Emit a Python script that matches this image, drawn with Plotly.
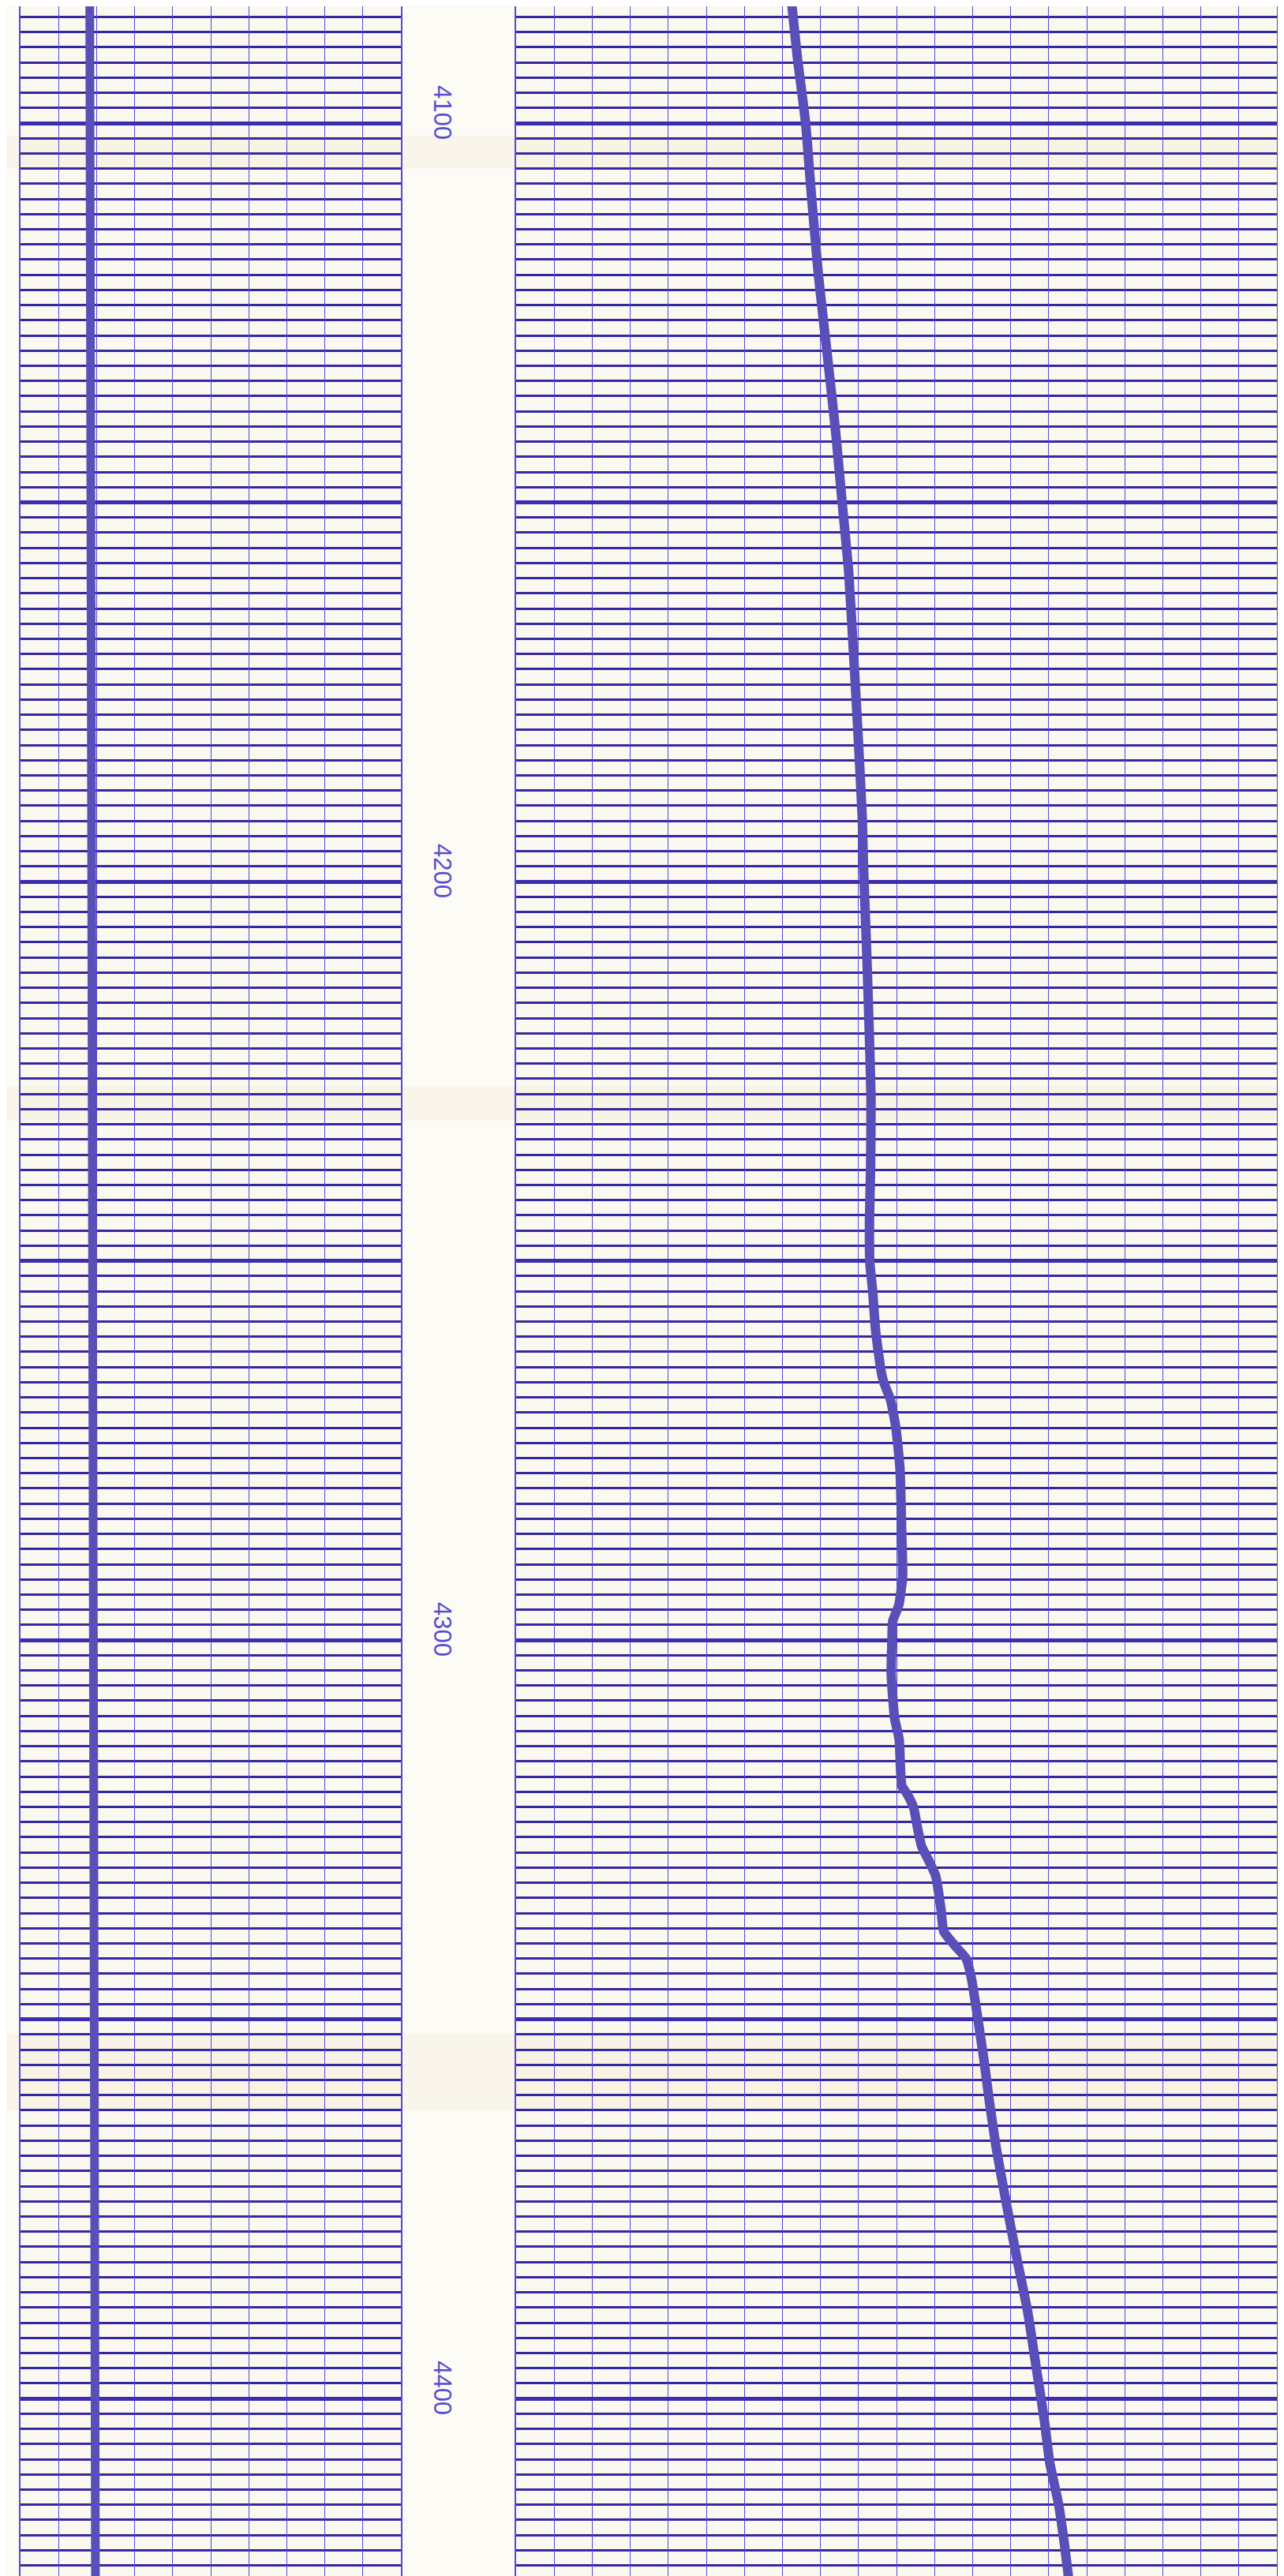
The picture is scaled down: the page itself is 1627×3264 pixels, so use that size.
import plotly.graph_objects as go
from plotly.subplots import make_subplots

# ---------------- data (read from the scanned log) ----------------
# right track curve: depth (ft) and value in chart divisions (0-20)
right_depth = [4084.0, 4091.2, 4100.0, 4109.3, 4120.2, 4131.0, 4140.7, 4150.0, 4159.0, 4169.9,
               4180.7, 4191.6, 4197.7, 4208.4, 4219.2, 4228.6, 4237.3, 4244.6, 4250.3, 4253.8,
               4259.2, 4264.7, 4266.1, 4268.3, 4271.9, 4277.3, 4286.3, 4291.7, 4295.4, 4297.5,
               4300.0, 4304.4, 4310.3, 4313.1, 4319.2, 4320.3, 4322.1, 4324.7, 4327.2, 4329.0,
               4331.1, 4335.5, 4338.4, 4340.2, 4342.0, 4344.6, 4350.0, 4355.4, 4360.8, 4366.9,
               4374.1, 4381.4, 4388.6, 4395.8, 4403.0, 4408.5, 4413.9, 4419.4, 4423.5]
right_value = [7.24, 7.39, 7.61, 7.76, 7.95, 8.19, 8.40, 8.57, 8.74, 8.87,
               8.99, 9.10, 9.13, 9.21, 9.28, 9.33, 9.32, 9.29, 9.30, 9.37,
               9.45, 9.60, 9.67, 9.84, 9.98, 10.09, 10.14, 10.16, 10.06, 9.90,
               9.88, 9.86, 9.95, 10.07, 10.14, 10.28, 10.45, 10.55, 10.66, 10.84,
               11.03, 11.17, 11.24, 11.52, 11.83, 11.97, 12.14, 12.30, 12.44, 12.62,
               12.88, 13.16, 13.45, 13.67, 13.89, 14.03, 14.26, 14.42, 14.52]

# left track curve: depth (ft) and value in chart divisions (0-10)
left_depth = [4084.0, 4150.0, 4200.0, 4250.0, 4300.0, 4350.0, 4400.0, 4423.5]
left_value = [1.82, 1.84, 1.86, 1.87, 1.89, 1.92, 1.96, 1.97]

# depth annotations printed in the depth column
depth_labels = [4100, 4200, 4300, 4400]

# ---------------- styling ----------------
W, H = 1627, 3264
CURVE = "rgb(90,78,184)"
HGRID = "rgb(52,40,162)"
HMAJOR = "rgb(60,44,175)"
VGRID = "rgb(84,72,222)"
LABEL = "rgb(86,76,210)"
PAPER = "#fcfbf5"
TRACK = "#fbf9ef"

fig = make_subplots(rows=1, cols=2, shared_yaxes=True)

fig.add_trace(go.Scatter(x=left_value, y=left_depth, mode="lines",
                         line=dict(color=CURVE, width=11),
                         showlegend=False, hoverinfo="skip"), row=1, col=1)
fig.add_trace(go.Scatter(x=right_value, y=right_depth, mode="lines",
                         line=dict(color=CURVE, width=12, shape="spline", smoothing=0.5),
                         showlegend=False, hoverinfo="skip"), row=1, col=2)

y_top, y_bot = 4084.6, 4423.5
yax = dict(range=[y_bot, y_top], domain=[7 / H, 1.0], showticklabels=False, ticks="",
           zeroline=False, showgrid=True, tick0=4100, dtick=50,
           gridcolor=HMAJOR, gridwidth=5,
           minor=dict(tick0=4100, dtick=2, showgrid=True, gridcolor=HGRID, gridwidth=2.5),
           showline=True, mirror=True, linecolor=VGRID, linewidth=2)
xgrid = dict(showticklabels=False, ticks="", zeroline=False, showgrid=True,
             tick0=0, dtick=1, gridcolor=VGRID, gridwidth=1, showline=False)

fig.update_layout(
    width=W, height=H,
    margin=dict(l=0, r=0, t=0, b=0),
    paper_bgcolor=PAPER, plot_bgcolor=TRACK,
    xaxis=dict(domain=[18 / W, 500 / W], range=[0, 10], **xgrid),
    xaxis2=dict(domain=[646 / W, 1610 / W], range=[0, 20], **xgrid),
    yaxis=yax,
    yaxis2=dict(yax),
    showlegend=False,
)

# faint paper folds / tint bands
for d0, d1 in [(4101.6, 4106.0), (4227.0, 4231.5), (4352.0, 4362.0)]:
    fig.add_shape(type="rect", xref="paper", yref="y", x0=0, x1=1, y0=d0, y1=d1,
                  fillcolor="rgba(236,214,170,0.14)", line_width=0, layer="below")

# scanner edge strip at the bottom
fig.add_shape(type="rect", xref="paper", yref="paper", x0=0, x1=1, y0=0, y1=7 / H,
              fillcolor="#d8d8d4", line_width=0, layer="above")

for d in depth_labels:
    fig.add_annotation(xref="paper", yref="y", x=553 / W, y=d, yshift=14,
                       text=str(d), textangle=90, showarrow=False,
                       font=dict(family="Liberation Sans, Arial, sans-serif", size=31, color=LABEL))

fig.write_html("out.html")
